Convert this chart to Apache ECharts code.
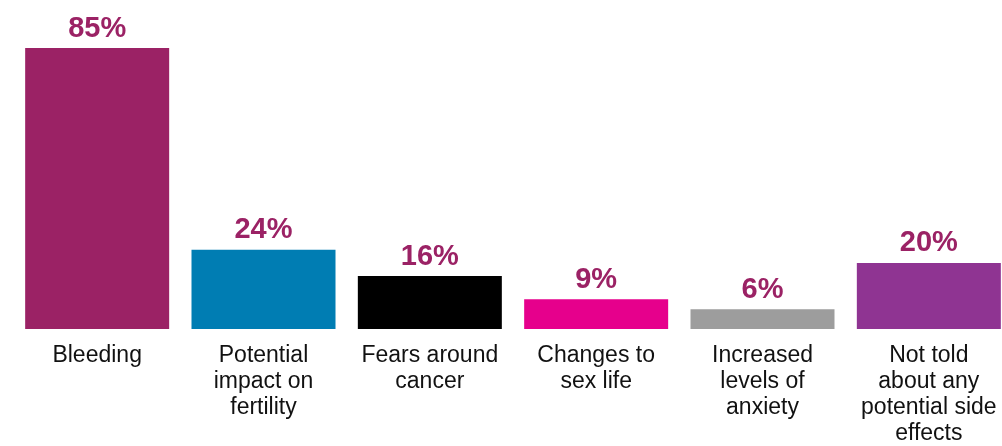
<!DOCTYPE html>
<html>
<head>
<meta charset="utf-8">
<script src="https://cdn.jsdelivr.net/npm/echarts@6/dist/echarts.min.js"></script>
<style>html,body{margin:0;padding:0;background:#fff}#c{width:1002px;height:446px}</style>
</head>
<body>
<div id="c"></div>
<script>
const categories = ["Bleeding", "Potential\nimpact on\nfertility", "Fears around\ncancer", "Changes to\nsex life", "Increased\nlevels of\nanxiety", "Not told\nabout any\npotential side\neffects"];
const values = [85, 24, 16, 9, 6, 20];
const barColors = ["#9b2265", "#007db3", "#000000", "#e6008c", "#9d9d9d", "#8f3492"];

const chart = echarts.init(document.getElementById('c'), null, {renderer: 'canvas'});
chart.setOption({
  animation: false,
  grid: {left: 14, width: 998, top: 48, bottom: 117, containLabel: false, outerBoundsMode: 'none'},
  xAxis: {
    type: 'category',
    data: categories,
    axisLine: {show: false},
    axisTick: {show: false},
    axisLabel: {
      interval: 0,
      margin: 14,
      color: '#111',
      fontFamily: 'Liberation Sans, Arial, sans-serif',
      fontSize: 23,
      lineHeight: 26,
      verticalAlign: 'top'
    }
  },
  yAxis: {type: 'value', min: 0, max: 85, show: false, splitLine: {show: false}},
  series: [{
    type: 'bar',
    data: values.map((v, i) => ({value: v, itemStyle: {color: barColors[i]}})),
    barWidth: 144,
    label: {
      show: true,
      position: 'top',
      distance: 5,
      formatter: '{c}%',
      color: '#9b2265',
      fontWeight: 'bold',
      fontFamily: 'Liberation Sans, Arial, sans-serif',
      fontSize: 29
    }
  }]
});
</script>
</body>
</html>
